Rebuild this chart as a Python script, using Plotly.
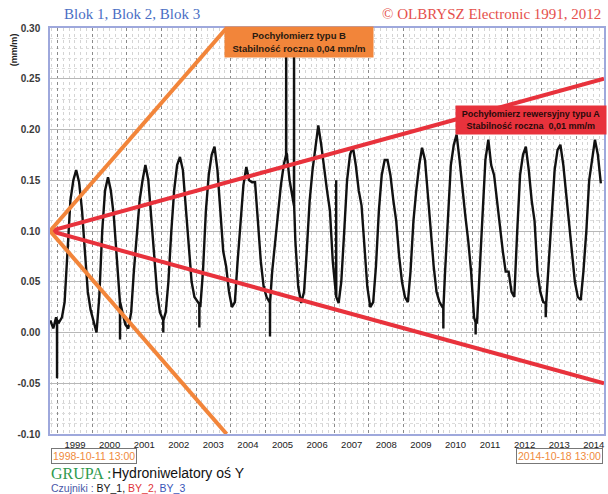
import pandas as pd
import plotly.graph_objects as go

# ---------------- data ----------------
start_date = "1998-10-11 13:00"
end_date = "2014-10-18 13:00"

# monthly (mid-month) readings, Oct 1998 .. Sep 2014  [mm/m]
vals_1998 = [0.012, 0.004, 0.015]
vals_1999 = [0.010, 0.015, 0.030, 0.085, 0.130, 0.150, 0.160, 0.148, 0.120, 0.080, 0.040, 0.022]
vals_2000 = [0.010, 0.000, 0.035, 0.100, 0.140, 0.153, 0.140, 0.115, 0.075, 0.035, 0.020, 0.008]
vals_2001 = [0.004, 0.020, 0.060, 0.100, 0.130, 0.150, 0.165, 0.150, 0.110, 0.070, 0.040, 0.020]
vals_2002 = [0.012, 0.020, 0.050, 0.100, 0.140, 0.165, 0.173, 0.160, 0.120, 0.085, 0.050, 0.035]
vals_2003 = [0.030, 0.025, 0.060, 0.120, 0.155, 0.175, 0.183, 0.160, 0.120, 0.080, 0.065, 0.040]
vals_2004 = [0.025, 0.030, 0.070, 0.110, 0.145, 0.163, 0.150, 0.148, 0.148, 0.110, 0.070, 0.045]
vals_2005 = [0.035, 0.030, 0.060, 0.090, 0.120, 0.145, 0.165, 0.177, 0.150, 0.135, 0.090, 0.045]
vals_2006 = [0.029, 0.040, 0.080, 0.130, 0.160, 0.185, 0.204, 0.185, 0.160, 0.140, 0.120, 0.070]
vals_2007 = [0.040, 0.029, 0.050, 0.100, 0.150, 0.175, 0.183, 0.165, 0.140, 0.125, 0.080, 0.045]
vals_2008 = [0.025, 0.030, 0.065, 0.120, 0.155, 0.170, 0.170, 0.155, 0.130, 0.110, 0.075, 0.050]
vals_2009 = [0.035, 0.030, 0.060, 0.110, 0.140, 0.165, 0.182, 0.170, 0.135, 0.100, 0.065, 0.040]
vals_2010 = [0.030, 0.025, 0.060, 0.120, 0.165, 0.185, 0.195, 0.170, 0.140, 0.115, 0.090, 0.060]
vals_2011 = [0.015, 0.009, 0.060, 0.120, 0.170, 0.190, 0.165, 0.155, 0.130, 0.100, 0.080, 0.060]
vals_2012 = [0.060, 0.040, 0.035, 0.100, 0.155, 0.175, 0.183, 0.160, 0.130, 0.110, 0.060, 0.040]
vals_2013 = [0.030, 0.029, 0.070, 0.120, 0.160, 0.180, 0.185, 0.165, 0.135, 0.110, 0.080, 0.050]
vals_2014 = [0.035, 0.032, 0.060, 0.100, 0.150, 0.170, 0.190, 0.175, 0.147]

# isolated spikes in the record: date, spike value, level of the record around it
spike_dates = ["1998-12-25", "2000-10-20", "2002-01-20", "2003-02-05", "2005-02-20",
               "2005-08-10", "2005-11-01", "2007-01-20", "2010-02-25", "2011-02-01", "2013-02-10"]
spike_vals = [-0.045, -0.007, 0.000, 0.005, -0.004, 0.32, 0.32, 0.150, 0.004, -0.002, 0.015]
spike_base = [0.012, 0.030, 0.012, 0.028, 0.030, 0.175, 0.125, 0.035, 0.025, 0.010, 0.029]

# stability envelopes (start at 0.10)
env_origin = 0.10
orange_end_date = "2003-11-20"
orange_ends = [0.30, -0.10]
red_ends = [0.25, -0.05]

y_ticks = [-0.10, -0.05, 0.00, 0.05, 0.10, 0.15, 0.20, 0.25, 0.30]

# ---------------- build series ----------------
monthly = (vals_1998 + vals_1999 + vals_2000 + vals_2001 + vals_2002 + vals_2003 +
           vals_2004 + vals_2005 + vals_2006 + vals_2007 + vals_2008 + vals_2009 +
           vals_2010 + vals_2011 + vals_2012 + vals_2013 + vals_2014)
mdates = list(pd.date_range("1998-10-01", periods=len(monthly), freq="MS") + pd.Timedelta(days=14))
sd = pd.to_datetime(spike_dates)
one = pd.Timedelta(days=1)
all_d = mdates + list(sd - one) + list(sd) + list(sd + one)
all_v = monthly + spike_base + spike_vals + spike_base
df = pd.DataFrame({"d": all_d, "v": all_v}).sort_values("d")

fig = go.Figure()
fig.add_trace(go.Scatter(x=df["d"], y=df["v"], mode="lines",
                         line=dict(color="#111111", width=2.4), hoverinfo="skip"))
for ye in red_ends:
    fig.add_trace(go.Scatter(x=[start_date, end_date], y=[env_origin, ye], mode="lines",
                             line=dict(color="#e8323c", width=4), hoverinfo="skip"))
for ye in orange_ends:
    fig.add_trace(go.Scatter(x=[start_date, orange_end_date], y=[env_origin, ye], mode="lines",
                             line=dict(color="#f2853a", width=4), hoverinfo="skip"))

L, R, T, B = 50, 2, 28, 60
W, H = 608, 494
pw, ph = W - L - R, H - T - B


def px(x):
    return (x - L) / pw


def py(y):
    return (H - B - y) / ph


fig.update_layout(
    width=W, height=H, showlegend=False,
    margin=dict(l=L, r=R, t=T, b=B),
    paper_bgcolor="white", plot_bgcolor="white",
    xaxis=dict(
        type="date", range=[start_date, end_date],
        tick0="1999-01-01", dtick="M12", tickformat="%Y", ticklabelmode="period",
        showgrid=True, gridcolor="#8a8a8a", griddash="dot", gridwidth=1,
        minor=dict(dtick="M2", showgrid=True, gridcolor="#d4d4d4", griddash="dot", gridwidth=1),
        showline=True, linecolor="#9ea8dc", linewidth=1.5, mirror=True,
        ticks="", ticklabelstandoff=1,
        tickfont=dict(family="Liberation Sans Narrow, Liberation Sans, Arial", size=9.5, color="#222"),
        zeroline=False,
    ),
    yaxis=dict(
        range=[-0.10, 0.30], tickvals=y_ticks, ticktext=[f"{v:.2f}" for v in y_ticks],
        showgrid=True, gridcolor="#b8b8b8", gridwidth=1,
        minor=dict(dtick=0.01, showgrid=True, gridcolor="#dcdcdc", griddash="dot", gridwidth=1),
        showline=True, linecolor="#9ea8dc", linewidth=1.5, mirror=True,
        ticks="", ticklabelstandoff=6,
        tickfont=dict(family="Liberation Sans, Arial", size=10, color="#3a3a3a", weight="bold"),
        zeroline=False,
    ),
)

ann = []
# header texts
ann.append(dict(x=px(62), y=py(14), xref="paper", yref="paper", xanchor="left", yanchor="middle",
                text="Blok 1, Blok 2, Blok 3", showarrow=False,
                font=dict(family="Liberation Serif, Times New Roman", size=15, color="#4a6ec4")))
ann.append(dict(x=px(605), y=py(14), xref="paper", yref="paper", xanchor="right", yanchor="middle",
                text="© OLBRYSZ Electronic 1991, 2012", showarrow=False,
                font=dict(family="Liberation Serif, Times New Roman", size=15, color="#e5504c")))
# y-axis unit
ann.append(dict(x=px(14), y=py(50), xref="paper", yref="paper", xanchor="center", yanchor="middle",
                text="<b>(mm/m)</b>", textangle=-90, showarrow=False,
                font=dict(family="Liberation Sans, Arial", size=9, color="#222")))
# boxes
ann.append(dict(x=px(300), y=py(42), xref="paper", yref="paper", xanchor="center", yanchor="middle",
                text="<b>Pochyłomierz typu B<br>Stabilność roczna 0,04 mm/m</b>", showarrow=False,
                bgcolor="#f2853a", width=146, height=28, borderpad=1,
                font=dict(family="Liberation Sans, Arial", size=9.5, color="#2a1a10")))
ann.append(dict(x=px(533), y=py(120), xref="paper", yref="paper", xanchor="center", yanchor="middle",
                text="<b>Pochyłomierz rewersyjny typu A<br>Stabilność roczna  0,01 mm/m</b>", showarrow=False,
                bgcolor="#e8323c", width=148, height=26, borderpad=1,
                font=dict(family="Liberation Sans, Arial", size=9, color="#2a0a0a")))
# date boxes
ann.append(dict(x=px(51), y=py(456), xref="paper", yref="paper", xanchor="left", yanchor="middle",
                text="1998-10-11 13:00", showarrow=False, bgcolor="white",
                bordercolor="#777", borderwidth=1, borderpad=1,
                font=dict(family="Liberation Sans Narrow, Liberation Sans, Arial", size=10.5, color="#f08a3c")))
ann.append(dict(x=px(605), y=py(456), xref="paper", yref="paper", xanchor="right", yanchor="middle",
                text="2014-10-18 13:00", showarrow=False, bgcolor="white",
                bordercolor="#777", borderwidth=1, borderpad=1,
                font=dict(family="Liberation Sans Narrow, Liberation Sans, Arial", size=10.5, color="#f08a3c")))
# group line
ann.append(dict(x=px(49), y=py(473), xref="paper", yref="paper", xanchor="left", yanchor="middle",
                text="GRUPA :", showarrow=False,
                font=dict(family="Liberation Serif, Times New Roman", size=16, color="#2e9a4e")))
ann.append(dict(x=px(110), y=py(473), xref="paper", yref="paper", xanchor="left", yanchor="middle",
                text="Hydroniwelatory oś Y", showarrow=False,
                font=dict(family="Liberation Sans, Arial", size=14, color="#111")))
ann.append(dict(x=px(49), y=py(488), xref="paper", yref="paper", xanchor="left", yanchor="middle",
                text=("<span style='color:#4a58a8'>Czujniki : </span>"
                      "<span style='color:#111'>BY_1, </span>"
                      "<span style='color:#e0353a'>BY_2, </span>"
                      "<span style='color:#3a55b8'>BY_3</span>"),
                showarrow=False,
                font=dict(family="Liberation Sans Narrow, Liberation Sans, Arial", size=10.5, color="#111")))
fig.update_layout(annotations=ann)

fig.write_html("out.html")
